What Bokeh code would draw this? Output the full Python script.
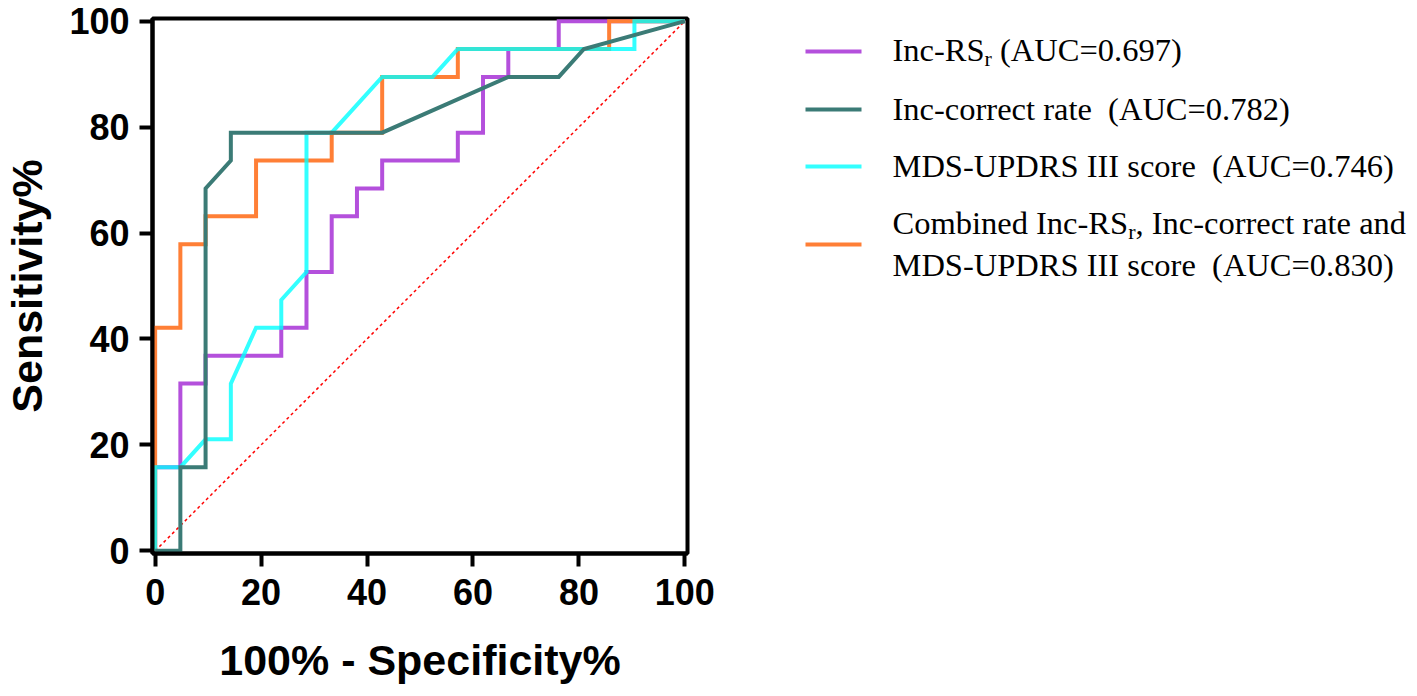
from bokeh.plotting import figure
from bokeh.layouts import row
from bokeh.models import Range1d, FixedTicker
from bokeh.core.properties import value
from bokeh.embed import file_html
from bokeh.resources import INLINE

# ROC curves, values in % (100% - specificity, sensitivity)
rs_x = [0, 0, 4.76, 4.76, 9.52, 9.52, 23.81, 23.81, 28.57, 28.57, 33.33, 33.33, 38.10,
        38.10, 42.86, 42.86, 57.14, 57.14, 61.90, 61.90, 66.67, 66.67, 76.19, 76.19, 100]
rs_y = [0, 15.79, 15.79, 31.58, 31.58, 36.84, 36.84, 42.11, 42.11, 52.63, 52.63, 63.16, 63.16,
        68.42, 68.42, 73.68, 73.68, 78.95, 78.95, 89.47, 89.47, 94.74, 94.74, 100, 100]

cr_x = [0, 4.76, 4.76, 9.52, 9.52, 14.29, 14.29, 42.86, 66.67, 76.19, 80.95, 100]
cr_y = [0, 0, 15.79, 15.79, 68.42, 73.68, 78.95, 78.95, 89.47, 89.47, 94.74, 100]

mds_x = [0, 0, 4.76, 9.52, 14.29, 14.29, 19.05, 23.81, 23.81, 28.57, 28.57, 33.33,
         42.86, 52.38, 57.14, 90.48, 90.48, 100]
mds_y = [0, 15.79, 15.79, 21.05, 21.05, 31.58, 42.11, 42.11, 47.37, 52.63, 78.95, 78.95,
         89.47, 89.47, 94.74, 94.74, 100, 100]

comb_x = [0, 0, 4.76, 4.76, 9.52, 9.52, 19.05, 19.05, 33.33, 33.33, 42.86, 42.86,
          57.14, 57.14, 85.71, 85.71, 100]
comb_y = [0, 42.11, 42.11, 57.89, 57.89, 63.16, 63.16, 73.68, 73.68, 78.95, 78.95, 89.47,
          89.47, 94.74, 94.74, 100, 100]

ref_line = [0, 100]
ticks = [0, 20, 40, 60, 80, 100]

PURPLE = "#B450DC"
TEAL = "#3B7B76"
CYAN = "#00FFFF"
ORANGE = "#FF7F36"

FIG_H = 680

p = figure(frame_width=535, frame_height=535, width=707, height=FIG_H,
           x_range=Range1d(-0.5, 100.5), y_range=Range1d(-0.5, 100.5),
           min_border_left=142, min_border_top=18, min_border_bottom=127, min_border_right=30,
           toolbar_location=None, output_backend="svg")
p.grid.visible = False
p.outline_line_color = "black"
p.outline_line_width = 4

p.line(ref_line, ref_line, line_color="red", line_width=1.5, line_dash="3 3")
p.line(rs_x, rs_y, line_color=PURPLE, line_width=4, line_join="miter")
p.line(comb_x, comb_y, line_color=ORANGE, line_width=4, line_join="miter")
p.line(mds_x, mds_y, line_color=CYAN, line_alpha=0.8, line_width=4, line_join="miter")
p.line(cr_x, cr_y, line_color=TEAL, line_width=4, line_join="miter")

p.xaxis.axis_label = "100% - Specificity%"
p.yaxis.axis_label = "Sensitivity%"
for ax in (p.xaxis[0], p.yaxis[0]):
    ax.ticker = FixedTicker(ticks=ticks)
    ax.axis_line_width = 4
    ax.axis_line_color = "black"
    ax.major_tick_line_width = 4
    ax.major_tick_out = 13
    ax.major_tick_in = 0
    ax.minor_tick_out = 0
    ax.minor_tick_in = 0
    ax.major_label_text_font = "Liberation Sans"
    ax.major_label_text_font_style = "bold"
    ax.major_label_text_font_size = "36px"
    ax.major_label_text_color = "black"
    ax.axis_label_text_font = "Liberation Sans"
    ax.axis_label_text_font_style = "bold"
    ax.axis_label_text_font_size = "43px"
    ax.axis_label_text_color = "black"
p.xaxis.major_label_standoff = 12
p.yaxis.major_label_standoff = 10
p.xaxis.axis_label_standoff = 28
p.yaxis.axis_label_standoff = 15

# legend drawn in its own panel (pixel-like coordinates, y downwards)
leg_w = 694
leg = figure(width=leg_w, height=FIG_H, frame_width=leg_w, frame_height=FIG_H,
             x_range=Range1d(0, leg_w), y_range=Range1d(FIG_H, 0),
             x_axis_type=None, y_axis_type=None,
             min_border_left=0, min_border_right=0, min_border_top=0, min_border_bottom=0,
             toolbar_location=None, output_backend="svg")
leg.grid.visible = False
leg.outline_line_color = None

leg_colors = [PURPLE, TEAL, CYAN, ORANGE]
leg_alpha = [1, 1, 0.8, 1]
sample_y = [33, 91, 148, 226]
leg.segment(x0=88, x1=144, y0=sample_y, y1=sample_y, line_color=leg_colors,
            line_alpha=leg_alpha, line_width=4)

font_px = 32.5
sub_px = 22
text_x = 175
row_y = [31, 90, 147, 204, 246]
w_inc_rs = 2.833 * font_px               # "Inc-RS" advance
w_comb_inc_rs = 7.25 * font_px           # "Combined Inc-RS" advance
w_sub = 0.333 * sub_px                   # subscript "r" advance
sp = 0.25 * font_px                      # one space

main_text = ["Inc-RS", "(AUC=0.697)",
             "Inc-correct rate \u00a0(AUC=0.782)",
             "MDS-UPDRS III score \u00a0(AUC=0.746)",
             "Combined Inc-RS", ", Inc-correct rate and",
             "MDS-UPDRS III score \u00a0(AUC=0.830)"]
main_y = [row_y[0], row_y[0], row_y[1], row_y[2], row_y[3], row_y[3], row_y[4]]
main_off = [0, w_inc_rs + w_sub + sp, 0, 0, 0, w_comb_inc_rs + w_sub, 0]
leg.text(x=text_x, y=main_y, text=main_text, x_offset=main_off,
         text_font=value("Liberation Serif"), text_font_size=f"{font_px}px",
         text_baseline="middle", text_align="left", text_color="black")

leg.text(x=text_x, y=[row_y[0] + 9, row_y[3] + 9], text=["r", "r"],
         x_offset=[w_inc_rs, w_comb_inc_rs],
         text_font=value("Liberation Serif"), text_font_size=f"{sub_px}px",
         text_baseline="middle", text_align="left", text_color="black")

layout = row(p, leg)
open("out.html", "w").write(file_html(layout, INLINE))
